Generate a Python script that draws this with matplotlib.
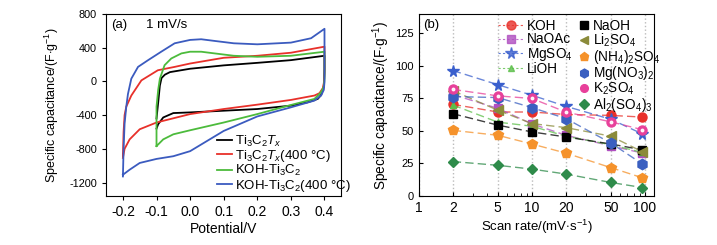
import matplotlib.pyplot as plt
from matplotlib.lines import Line2D
from matplotlib.ticker import FixedLocator, NullFormatter

plt.rcParams.update({'font.family': ['Liberation Sans', 'DejaVu Sans'], 'font.size': 10,
                     'axes.unicode_minus': False,
                     'mathtext.fontset': 'custom', 'mathtext.rm': 'Liberation Sans',
                     'mathtext.it': 'Liberation Sans:italic'})

# ---- panel (a): CV curves at 1 mV/s (anodic branch then cathodic branch) ----
e_tix = [-0.1, -0.095, -0.09, -0.085, -0.075, -0.06, 0.0, 0.1, 0.2, 0.3, 0.4,
         0.4, 0.398, 0.39, 0.38, 0.35, 0.3, 0.2, 0.1, 0.0, -0.05, -0.08, -0.095, -0.1]
c_tix = [-440, -250, -50, 40, 80, 110, 150, 190, 220, 252, 304,
         150, -60, -160, -208, -248, -288, -328, -348, -368, -376, -428, -508, -560]

e_tix400 = [-0.2, -0.198, -0.195, -0.19, -0.175, -0.145, -0.096, -0.046, 0.0, 0.1, 0.2, 0.3, 0.4,
            0.4, 0.398, 0.395, 0.385, 0.37, 0.3, 0.2, 0.1, 0.0, -0.1, -0.15, -0.18, -0.195, -0.2]
c_tix400 = [-880, -600, -400, -300, -168, 12, 132, 172, 212, 280, 304, 340, 412,
            100, -20, -80, -140, -168, -220, -276, -328, -388, -488, -568, -688, -800, -908]

e_koh = [-0.1, -0.1, -0.095, -0.09, -0.076, -0.056, -0.026, 0.0, 0.033, 0.073, 0.13, 0.2, 0.3, 0.4,
         0.4, 0.398, 0.39, 0.37, 0.3, 0.2, 0.1, 0.0, -0.05, -0.08, -0.1]
c_koh = [-768, -300, -100, 32, 192, 272, 332, 352, 352, 332, 304, 292, 304, 352,
         32, -60, -128, -208, -280, -388, -488, -580, -628, -688, -768]

e_koh400 = [-0.2, -0.198, -0.195, -0.19, -0.185, -0.175, -0.155, -0.125, -0.086, -0.046, 0.0, 0.033,
            0.073, 0.13, 0.2, 0.3, 0.36, 0.4,
            0.4, 0.398, 0.39, 0.37, 0.3, 0.2, 0.1, 0.05, 0.0, -0.05, -0.1, -0.15, -0.18, -0.2]
c_koh400 = [-1128, -800, -500, -300, -150, 32, 172, 252, 352, 452, 492, 500,
            480, 452, 440, 460, 512, 624,
            -8, -100, -168, -228, -308, -416, -588, -708, -828, -888, -920, -968, -1048, -1108]

cv_labels = ['Ti$_3$C$_2$$T_x$', 'Ti$_3$C$_2$$T_x$(400 \u00b0C)',
             'KOH-Ti$_3$C$_2$', 'KOH-Ti$_3$C$_2$(400 \u00b0C)']

# ---- panel (b): capacitance vs scan rate ----
scan_rate = [2, 5, 10, 20, 50, 95]
koh = [70.5, 64.6, 64.6, 62.7, 62, 60.7]
naoac = [78, 67.4, 55.5, 46.7, 38.6, 33]
mgso4 = [96.5, 85.6, 77.5, 69, 59, 47.7]
lioh = [70, 56.8, 53.7, 46, 39.4, 33.5]
naoh = [63.3, 54.5, 49.3, 45.4, 40, 35.5]
li2so4 = [81, 66, 55.7, 52.6, 46, 34]
nh42so4 = [50.5, 46.7, 40, 33, 21.8, 14]
mgno32 = [76.5, 75.7, 68, 59.6, 40.7, 24.6]
k2so4 = [82, 77, 75, 64.6, 57, 51]
al2so43 = [26.5, 23.6, 20.7, 16.9, 10.4, 6.5]

fig = plt.figure(figsize=(7.17, 2.45), dpi=100)
ax1 = fig.add_axes([0.148, 0.2, 0.328, 0.743])
ax2 = fig.add_axes([0.584, 0.2, 0.328, 0.743])

for e, c, col, lab in [(e_tix, c_tix, 'black', cv_labels[0]),
                       (e_tix400, c_tix400, '#e8302a', cv_labels[1]),
                       (e_koh, c_koh, '#4cbb3c', cv_labels[2]),
                       (e_koh400, c_koh400, '#3b5bbf', cv_labels[3])]:
    ax1.plot(e, c, color=col, lw=1.3, label=lab)

ax1.set_xlim(-0.25, 0.45)
ax1.set_ylim(-1360, 800)
ax1.set_xticks([-0.2, -0.1, 0.0, 0.1, 0.2, 0.3, 0.4])
ax1.set_yticks([-1200, -800, -400, 0, 400, 800])
ax1.tick_params(direction='out', length=3)
ax1.tick_params(axis='x', labelsize=10)
ax1.tick_params(axis='y', labelsize=7.8)
ax1.set_xlabel('Potential/V', fontsize=10, labelpad=2)
ax1.set_ylabel('Specific capacitance/(F$\\cdot$g$^{-1}$)', fontsize=9)
ax1.yaxis.set_label_coords(-0.19, 0.5)
ax1.text(0.02, 0.94, '(a)', transform=ax1.transAxes, va='center', fontsize=9.5)
ax1.text(0.17, 0.94, '1 mV/s', transform=ax1.transAxes, va='center', fontsize=9.5)
ax1.legend(loc='upper left', bbox_to_anchor=(0.445, 0.38), frameon=False, borderpad=0,
           handlelength=1.1, handletextpad=0.2, labelspacing=-0.05, fontsize=9.5)

series = [
    ('KOH', koh, '#e8302a', 'o', 6.5),
    ('NaOAc', naoac, '#b04fc0', 's', 6),
    ('MgSO$_4$', mgso4, '#3a5fcd', '*', 8.5),
    ('LiOH', lioh, '#5cbf4a', '^', 5),
    ('NaOH', naoh, 'black', 's', 6),
    ('Li$_2$SO$_4$', li2so4, '#8b8b3a', '<', 6.5),
    ('(NH$_4$)$_2$SO$_4$', nh42so4, '#f5922b', 'p', 7.5),
    ('Mg(NO$_3$)$_2$', mgno32, '#3a5fc0', 'h', 7.5),
    ('K$_2$SO$_4$', k2so4, '#e8409a', 'o', 6.5),
    ('Al$_2$(SO$_4$)$_3$', al2so43, '#2e8b4a', 'D', 5.5),
]

h1, h2 = [], []
for i, (name, vals, col, mk, ms) in enumerate(series):
    ax2.plot(scan_rate, vals, color=col, ls=(0, (6, 3)), lw=1, alpha=0.75)
    ax2.plot(scan_rate, vals, color=col, ls='none', marker=mk, ms=ms, mec=col)
    if name.startswith('K$_2$'):
        ax2.plot(scan_rate, vals, ls='none', marker='o', ms=1.8, color='white', alpha=0.9)
    if i < 4:
        h1.append(Line2D([], [], color=col, ls=(0, (2, 2)), lw=0.8, alpha=0.8, marker=mk, ms=ms,
                         mec=col, label=name))
    else:
        h2.append(Line2D([], [], color=col, ls='none', marker=mk, ms=ms * 0.85, mec=col, label=name))

ax2.set_xscale('log')
ax2.set_xlim(1, 120)
ax2.set_ylim(0, 140)
ax2.xaxis.set_major_locator(FixedLocator([1, 2, 5, 10, 20, 50, 100]))
ax2.set_xticklabels(['1', '2', '5', '10', '20', '50', '100'])
ax2.xaxis.set_minor_formatter(NullFormatter())
ax2.set_yticks([0, 25, 50, 75, 100, 125])
ax2.tick_params(direction='in', length=3)
ax2.tick_params(axis='x', labelsize=10)
ax2.tick_params(axis='y', labelsize=8)
ax2.tick_params(which='minor', direction='in', length=2)
ax2.grid(axis='x', which='major', ls=':', color='#bbbbbb', lw=1)
ax2.set_xlabel('Scan rate/(mV$\\cdot$s$^{-1}$)', fontsize=9.5, labelpad=2)
ax2.set_ylabel('Specific capacitance/(F$\\cdot$g$^{-1}$)', fontsize=9.8)
ax2.yaxis.set_label_coords(-0.115, 0.5)
ax2.text(0.02, 0.94, '(b)', transform=ax2.transAxes, va='center', fontsize=9.5)

leg1 = ax2.legend(handles=h1, loc='upper left', bbox_to_anchor=(0.31, 1.01), frameon=False,
                  borderpad=0, handlelength=1.8, handletextpad=0.3, labelspacing=-0.05, fontsize=9.8)
ax2.add_artist(leg1)
ax2.legend(handles=h2, loc='upper left', bbox_to_anchor=(0.65, 1.01), frameon=False,
           borderpad=0, handlelength=0.8, handletextpad=0.3, labelspacing=-0.1, fontsize=9.8)

plt.savefig('out.png', dpi=100)
